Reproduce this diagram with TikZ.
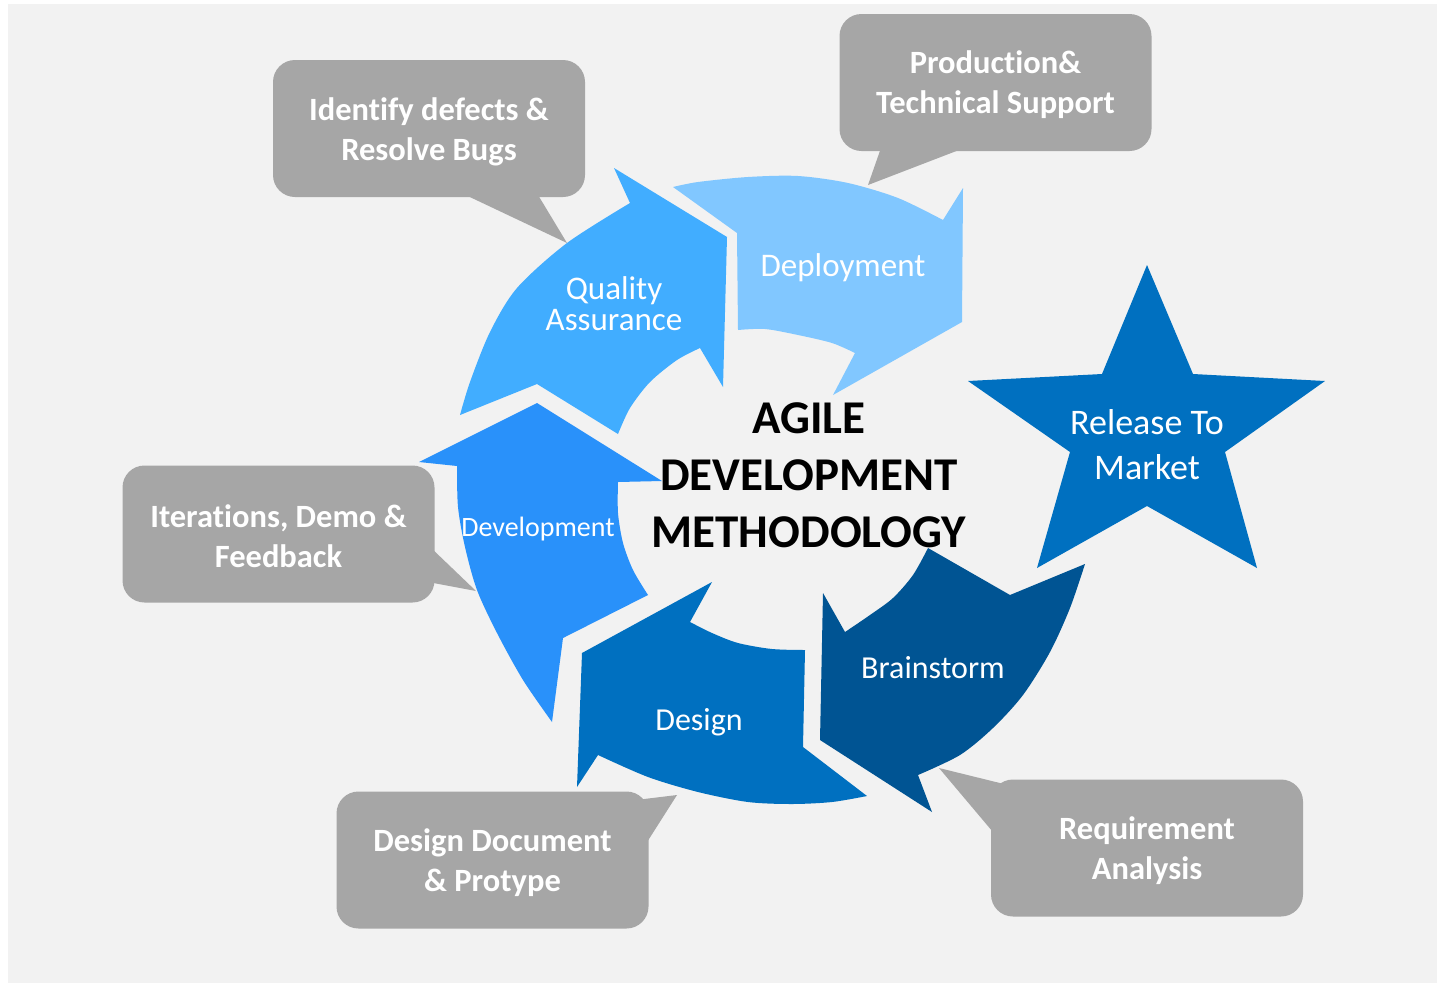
\documentclass[tikz,border=0pt]{standalone}
\usepackage{fontspec}
\setmainfont{Carlito}[Ligatures={NoCommon}]
\definecolor{bgC}{RGB}{242,242,242}
\definecolor{qaC}{RGB}{65,173,255}
\definecolor{depC}{RGB}{129,199,255}
\definecolor{devC}{RGB}{41,145,250}
\definecolor{desC}{RGB}{0,112,192}
\definecolor{brnC}{RGB}{0,84,147}
\definecolor{boxC}{RGB}{166,166,166}
\tikzset{
  graybox/.style={rounded corners=22pt, fill=boxC, inner sep=0pt,
    minimum width=312pt, minimum height=137pt},
  boxtext/.style={text=white, align=center, inner sep=0pt,
    font=\fontsize{32.5}{40}\selectfont\bfseries},
  tailshape/.style={fill=boxC},
  arrowlabel/.style={text=white, align=center, inner sep=0pt},
}
\begin{document}
\begin{tikzpicture}[x=1pt,y=-1pt]
\useasboundingbox (0,0) rectangle (1437,983);
\fill[white] (0,0) rectangle (1437,983);
\fill[bgC] (8,4) rectangle (1437,983);

% callout tails
\fill[tailshape] (455,190) -- (567,243) -- (535,190) -- cycle;
\fill[tailshape] (882,145) -- (868,185) -- (972,145) -- cycle;
\fill[tailshape] (428,545) -- (476,591) -- (428,582) -- cycle;
\fill[tailshape] (636,800) -- (677,795) -- (642,850) -- cycle;
\fill[tailshape] (1012,786) -- (939,768) -- (998,838) -- cycle;

% callout boxes
\node[graybox] (bugs) at (429,128.5) {};
\node[graybox] (prod) at (995.5,82.5) {};
\node[graybox] (iter) at (278.5,534) {};
\node[graybox] (ddoc) at (492.5,860) {};
\node[graybox] (req) at (1147,848) {};
\node[boxtext] (bugs-t) at ([yshift=-3pt]bugs.center) {Identify defects \&\\Resolve Bugs};
\node[boxtext] (prod-t) at ([yshift=-2pt]prod.center) {Production\&\\Technical Support};
\node[boxtext] (iter-t) at ([yshift=-2pt]iter.center) {Iterations, Demo \&\\Feedback};
\node[boxtext] (ddoc-t) at ([yshift=-3pt]ddoc.center) {Design Document\\\& Protype};
\node[boxtext] (req-t) at ([yshift=-3pt]req.center) {Requirement\\Analysis};

% Quality Assurance arrow
\fill[qaC] (614,168) -- (727,237) -- (723,387) -- (700,348)
  -- plot[smooth] coordinates {(700,348) (677,360) (650,382) (630,408) (618,434)}
  -- (537,384) -- (460,415)
  -- plot[smooth] coordinates {(460,415) (470,382) (490,332) (517,288) (567,243) (630,203)}
  -- cycle;
% Deployment arrow
\fill[depC] (673,187) -- (737,233) -- (738,330)
  -- plot[smooth] coordinates {(738,330) (765,329) (798,335) (832,343) (855,353)}
  -- (833,395) -- (962,322) -- (963,188) -- (943,220)
  -- plot[smooth] coordinates {(943,220) (898,198) (848,183) (798,176) (748,177) (698,182) (673,187)}
  -- cycle;
% Development arrow
\fill[devC] (537,403) -- (662,481) -- (618,482)
  -- plot[smooth] coordinates {(618,482) (618,513) (623,543) (633,570) (648,595)}
  -- (563,638) -- (552,722)
  -- plot[smooth] coordinates {(552,722) (523,680) (497,633) (477,590) (465,547) (458,507) (457,466)}
  -- (419,462) -- cycle;
% Design arrow
\fill[desC] (712,582) -- (690,622)
  -- plot[smooth] coordinates {(690,622) (712,633) (738,643) (772,649) (805,650)}
  -- (803,747) -- (867,796)
  -- plot[smooth] coordinates {(867,796) (832,802) (792,804) (748,802) (698,792) (648,777) (598,755)}
  -- (577,787) -- (582,653) -- cycle;
% Brainstorm arrow
\fill[brnC] (928,548) -- (1010,595) -- (1085,564)
  -- plot[smooth] coordinates {(1085,564) (1070,608) (1050,652) (1023,695) (993,728) (960,755) (918,775)}
  -- (932,812) -- (820,740) -- (823,593) -- (845,632)
  -- plot[smooth] coordinates {(845,632) (870,615) (893,598) (913,575) (928,548)}
  -- cycle;
% Star
\fill[desC] (1147,265) -- (1193,374) -- (1325,381) -- (1225,452) -- (1257,568)
  -- (1147,506) -- (1037,568) -- (1070,452) -- (968,381) -- (1102,374) -- cycle;

% labels
\node[arrowlabel, font=\fontsize{33}{31}\selectfont] (qa) at (614,304) {Quality\\Assurance};
\node[arrowlabel, font=\fontsize{33}{40}\selectfont] (dep) at (843,268) {Deployment};
\node[arrowlabel, font=\fontsize{28}{34}\selectfont] (dev) at (538,529) {Development};
\node[arrowlabel, font=\fontsize{32}{39}\selectfont] (des) at (699,722) {Design};
\node[arrowlabel, font=\fontsize{32}{39}\selectfont] (brn) at (933,668) {Brainstorm};
\node[arrowlabel, font=\fontsize{36}{45}\selectfont] (rel) at (1147,445) {Release To\\Market};
\node[align=center, inner sep=0pt, text=black, font=\fontsize{47}{57}\selectfont\bfseries] (title) at (809,475) {AGILE\\DEVELOPMENT\\METHODOLOGY};
\end{tikzpicture}
\end{document}
